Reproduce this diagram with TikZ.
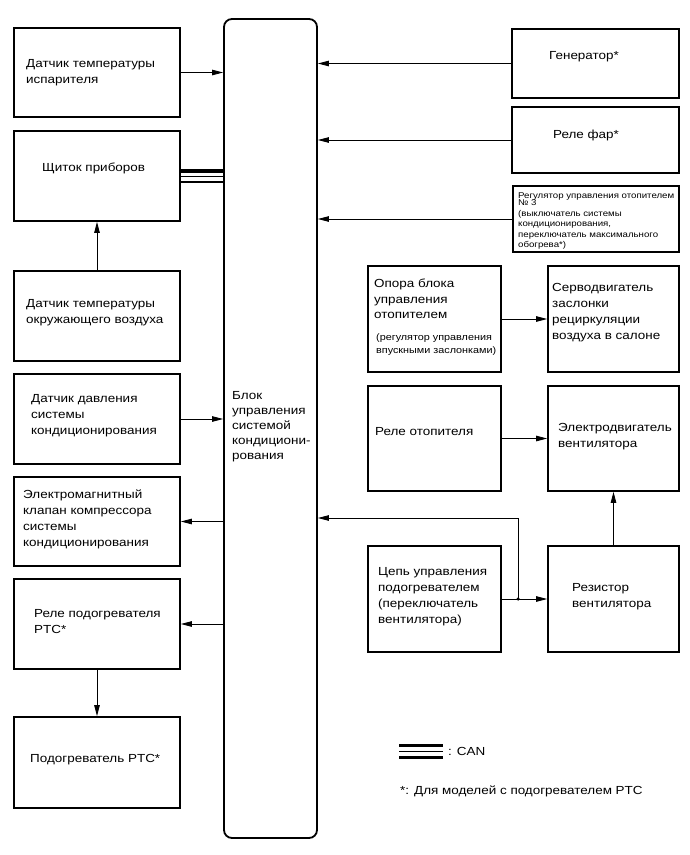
\documentclass[tikz,border=0pt]{standalone}
\usepackage{fontspec}
\setmainfont{Liberation Sans}[FakeStretch=1.15]
\usetikzlibrary{arrows.meta,calc}
\begin{document}
\begin{tikzpicture}[x=1pt,y=-1pt,
  box/.style={draw,line width=1.7pt,minimum width=#1,inner sep=0pt},
  txt/.style={anchor=west,align=left,inner sep=0pt,font=\fontsize{11.7}{16}\selectfont},
  arr/.style={line width=0.8pt,-{Triangle[length=11pt,width=5.5pt]}},
  ln/.style={line width=0.8pt}]
\useasboundingbox (0,0) rectangle (690,855);
% left column
\node[box=166pt,minimum height=89pt] (evap) at (97,72.5) {};
\node[box=166pt,minimum height=90pt] (dash) at (97,176) {};
\node[box=166pt,minimum height=90pt] (amb) at (97,316) {};
\node[box=166pt,minimum height=90pt] (press) at (97,419) {};
\node[box=166pt,minimum height=89pt] (clutch) at (97,521.5) {};
\node[box=166pt,minimum height=90pt] (ptcrelay) at (97,624) {};
\node[box=166pt,minimum height=91pt] (ptc) at (97,762.5) {};
% ECU
\node[draw,line width=1.8pt,rounded corners=8pt,minimum width=93pt,minimum height=819pt,inner sep=0pt] (ecu) at (270.5,428.5) {};
% right column
\node[box=167pt,minimum height=69pt] (gen) at (595.5,63.5) {};
\node[box=167pt,minimum height=66pt] (head) at (595.5,140) {};
\node[box=166pt,minimum height=66pt] (reg) at (596,219) {};
\node[box=133pt,minimum height=106pt] (opora) at (434.5,319) {};
\node[box=131pt,minimum height=106pt] (servo) at (613.5,319) {};
\node[box=133pt,minimum height=105pt] (hrelay) at (434.5,438.5) {};
\node[box=131pt,minimum height=105pt] (motor) at (613.5,438.5) {};
\node[box=133pt,minimum height=106pt] (circ) at (434.5,599) {};
\node[box=131pt,minimum height=106pt] (resist) at (613.5,599) {};
% texts
\node[txt] (tevap) at (26,73) {Датчик температуры\\испарителя};
\node[txt] (tdash) at (42,168) {Щиток приборов};
\node[txt] (tamb) at (26,313) {Датчик температуры\\окружающего воздуха};
\node[txt] (tpress) at (31,416) {Датчик давления\\системы\\кондиционирования};
\node[txt] (tclutch) at (23,519) {Электромагнитный\\клапан компрессора\\системы\\кондиционирования};
\node[txt] (tptcrelay) at (34,622) {Реле подогревателя\\PTC*};
\node[txt] (tptc) at (30,760) {Подогреватель PTC*};
\node[txt,font=\fontsize{11.7}{15}\selectfont] (tecu) at (232,427) {Блок\\управления\\системой\\кондициони-\\рования};
\node[txt] (tgen) at (549,57) {Генератор*};
\node[txt] (thead) at (553,135) {Реле фар*};
\node[txt,font=\fontsize{8.4}{10.5}\selectfont] (treg) at (518,221) {Регулятор управления отопителем\\[-3pt]№ 3\\(выключатель системы\\кондиционирования,\\переключатель максимального\\обогрева*)};
\node[txt,font=\fontsize{11.7}{15.5}\selectfont] (topora) at (374,299) {Опора блока\\управления\\отопителем};
\node[txt,font=\fontsize{9.4}{13}\selectfont] (topora2) at (376,345) {(регулятор управления\\впускными заслонками)};
\node[txt] (tservo) at (552,313) {Серводвигатель\\заслонки\\рециркуляции\\воздуха в салоне};
\node[txt] (threlay) at (375,432) {Реле отопителя};
\node[txt] (tmotor) at (558,437) {Электродвигатель\\вентилятора};
\node[txt] (tcirc) at (378,597) {Цепь управления\\подогревателем\\(переключатель\\вентилятора)};
\node[txt] (tresist) at (572,597) {Резистор\\вентилятора};
% connectors
\draw[arr] (evap.east) -- (evap.east -| ecu.west);
\draw[arr] (gen.west) -- (gen.west -| ecu.east);
\draw[arr] (head.west) -- (head.west -| ecu.east);
\draw[arr] (reg.west) -- (reg.west -| ecu.east);
\draw[arr] (amb.north) -- (dash.south);
\draw[line width=3.5pt] (dash.east |- 0,171) -- (ecu.west |- 0,171);
\draw[line width=1pt] (dash.east |- 0,176.5) -- (ecu.west |- 0,176.5);
\draw[line width=1.6pt] (dash.east |- 0,182) -- (ecu.west |- 0,182);
\draw[arr] (press.east) -- (press.east -| ecu.west);
\draw[arr] (clutch.east -| ecu.west) -- (clutch.east);
\draw[arr] (ptcrelay.east -| ecu.west) -- (ptcrelay.east);
\draw[arr] (ptcrelay.south) -- (ptc.north);
\draw[arr] (opora.east) -- (servo.west);
\draw[arr] (hrelay.east) -- (motor.west);
\draw[arr] (circ.east) -- (resist.west);
\draw[arr] (resist.north) -- (motor.south);
\coordinate (jn) at ($(circ.east)!0.36!(resist.west)$);
\coordinate (bend) at (jn |- 0,518);
\fill (jn) circle (1.8pt);
\draw[arr] (jn) -- (bend) -- (bend -| ecu.east);
% legend
\coordinate (lg1) at (399,745);
\coordinate (lg2) at (443,745);
\draw[line width=3pt] (lg1) -- (lg2);
\draw[line width=1pt] ($(lg1)+(0,6)$) -- ($(lg2)+(0,6)$);
\draw[line width=3pt] ($(lg1)+(0,12)$) -- ($(lg2)+(0,12)$);
\node[txt] (tcan) at (448,751) {: CAN};
\node[txt] (tnote) at (400,791) {*: Для моделей с подогревателем PTC};
\end{tikzpicture}
\end{document}
